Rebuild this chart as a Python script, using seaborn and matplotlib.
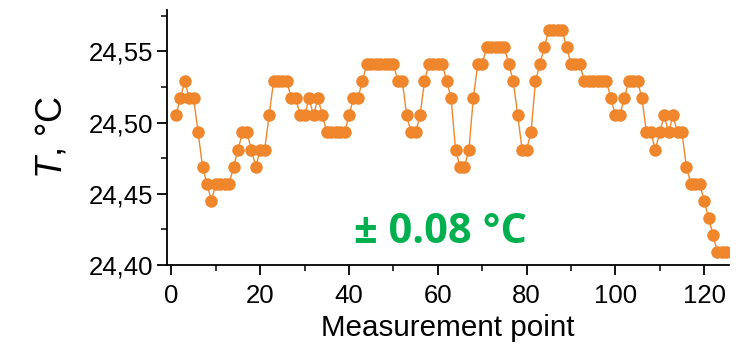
import numpy as np
import pandas as pd
import matplotlib
matplotlib.use('Agg')
import matplotlib.pyplot as plt
import seaborn as sns
from matplotlib.ticker import MultipleLocator, FuncFormatter

points = list(range(1, 126))
temperature = [
    24.505, 24.517, 24.529, 24.517, 24.517, 24.493, 24.469, 24.457, 24.445, 24.457,
    24.457, 24.457, 24.457, 24.469, 24.481, 24.493, 24.493, 24.481, 24.469, 24.481,
    24.481, 24.505, 24.529, 24.529, 24.529, 24.529, 24.517, 24.517, 24.505, 24.505,
    24.517, 24.505, 24.517, 24.505, 24.493, 24.493, 24.493, 24.493, 24.493, 24.505,
    24.517, 24.517, 24.529, 24.541, 24.541, 24.541, 24.541, 24.541, 24.541, 24.541,
    24.529, 24.529, 24.505, 24.493, 24.493, 24.505, 24.529, 24.541, 24.541, 24.541,
    24.541, 24.529, 24.517, 24.481, 24.469, 24.469, 24.481, 24.517, 24.541, 24.541,
    24.553, 24.553, 24.553, 24.553, 24.553, 24.541, 24.529, 24.505, 24.481, 24.481,
    24.493, 24.529, 24.541, 24.553, 24.565, 24.565, 24.565, 24.565, 24.553, 24.541,
    24.541, 24.541, 24.529, 24.529, 24.529, 24.529, 24.529, 24.529, 24.517, 24.505,
    24.505, 24.517, 24.529, 24.529, 24.529, 24.517, 24.493, 24.493, 24.481, 24.493,
    24.505, 24.493, 24.505, 24.493, 24.493, 24.469, 24.457, 24.457, 24.457, 24.445,
    24.433, 24.421, 24.409, 24.409, 24.409,
]
x_label = 'Measurement point'
y_label = r'$T$, °C'
note = '± 0.08 °C'

df = pd.DataFrame({'point': points, 'T': temperature})

sns.set_style('ticks')
plt.rcParams['font.family'] = ['Liberation Sans', 'DejaVu Sans']
plt.rcParams['mathtext.fontset'] = 'custom'
plt.rcParams['mathtext.rm'] = 'Liberation Sans'
plt.rcParams['mathtext.it'] = 'Liberation Sans:italic'

orange = '#F0862C'

fig, ax = plt.subplots(figsize=(7.48, 3.45), dpi=100)
fig.subplots_adjust(left=0.2233, right=0.9746, top=0.971, bottom=0.232)

sns.lineplot(data=df, x='point', y='T', ax=ax, color=orange, linewidth=1,
             marker='o', markersize=9, markeredgewidth=0, markerfacecolor=orange)

ax.set_xlim(-1, 125.6)
ax.set_ylim(24.40, 24.579)

ax.xaxis.set_major_locator(MultipleLocator(20))
ax.xaxis.set_minor_locator(MultipleLocator(10))
ax.yaxis.set_major_locator(MultipleLocator(0.05))
ax.yaxis.set_minor_locator(MultipleLocator(0.025))
ax.yaxis.set_major_formatter(FuncFormatter(lambda v, p: f'{v:.2f}'.replace('.', ',')))

ax.tick_params(axis='both', which='major', direction='out', length=7, width=1.3,
               labelsize=18.5, colors='black', pad=3)
ax.tick_params(axis='x', which='major', pad=7)
ax.tick_params(axis='both', which='minor', direction='out', length=4, width=1.3)

for s in ['top', 'right']:
    ax.spines[s].set_visible(False)
for s in ['left', 'bottom']:
    ax.spines[s].set_linewidth(1.3)
    ax.spines[s].set_color('black')

ax.set_xlabel(x_label, fontsize=21.3, labelpad=4, color='black')
ax.set_ylabel(y_label, fontsize=26, labelpad=14, color='black')

ax.text(60.5, 24.423, note, ha='center', va='center', fontsize=30,
        fontweight='bold', color='#00B04F', family=['Open Sans', 'DejaVu Sans'])

plt.savefig('out.png', dpi=100)
plt.close()
